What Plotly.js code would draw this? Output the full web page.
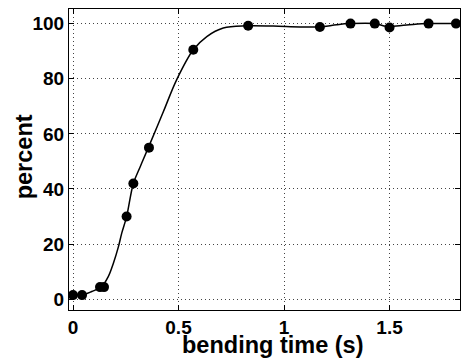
<!DOCTYPE html>
<html>
<head>
<meta charset="utf-8">
<script src="https://cdn.plot.ly/plotly-3.0.1.min.js"></script>
<style>
  html, body { margin: 0; padding: 0; background: #fff; }
  #chart { width: 464px; height: 360px; }
</style>
</head>
<body>
<div id="chart"></div>
<script>
// Measured points
const timeS = [0, 0.043, 0.128, 0.147, 0.254, 0.286, 0.36, 0.57, 0.83, 1.17, 1.315, 1.43, 1.50, 1.685, 1.815];
const percent = [1.5, 1.5, 4.4, 4.4, 30, 42, 55, 90.5, 99.2, 98.8, 100, 100, 98.6, 100, 100];

// Fitted curve
const curveX = [0, 0.041, 0.089, 0.136, 0.167, 0.191, 0.215, 0.231, 0.254, 0.286, 0.318, 0.357, 0.428, 0.491, 0.570, 0.634, 0.712, 0.823, 0.949, 1.076, 1.171, 1.25, 1.313, 1.431, 1.486, 1.581, 1.684, 1.818];
const curveY = [1.6, 1.5, 2.8, 4.6, 8.2, 13, 19, 24, 30, 42, 48, 55, 68, 79.6, 90.5, 95.3, 98.4, 99.2, 99.1, 98.8, 98.8, 99.6, 100, 100, 99, 99.5, 100, 100];

const xTicks = [0, 0.5, 1, 1.5];
const xTickText = ['0', '0.5', '1', '1.5'];
const yTicks = [0, 20, 40, 60, 80, 100];
const yTickText = ['0', '20', '40', '60', '80', '100'];
const xTitle = 'bending time (s)';
const yTitle = 'percent';

const FONT = '"Liberation Sans", Arial, Helvetica, sans-serif';

const traces = [
  {
    x: curveX, y: curveY, type: 'scatter', mode: 'lines',
    line: { color: '#000', width: 1.5, shape: 'spline', smoothing: 1 },
    hoverinfo: 'skip', showlegend: false
  },
  {
    x: timeS, y: percent, type: 'scatter', mode: 'markers',
    marker: { color: '#000', size: 10 },
    showlegend: false
  }
];

const axisCommon = {
  showline: true, linecolor: '#000', linewidth: 1, mirror: 'allticks',
  ticks: 'inside', ticklen: 5, tickcolor: '#000', tickwidth: 1,
  showgrid: true, gridcolor: '#444', gridwidth: 1, griddash: '1px,3px',
  zeroline: false,
  tickfont: { family: FONT, size: 19, color: '#000', weight: 'bold' },
  automargin: false
};

const titleFont = { family: FONT, size: 23.5, color: '#000', weight: 'bold' };

const layout = {
  width: 464, height: 360,
  margin: { l: 69, r: 4, t: 9, b: 50 },
  paper_bgcolor: '#fff', plot_bgcolor: '#fff',
  font: { family: FONT, color: '#000' },
  xaxis: Object.assign({}, axisCommon, {
    range: [-0.019, 1.834],
    tickmode: 'array', tickvals: xTicks, ticktext: xTickText
  }),
  yaxis: Object.assign({}, axisCommon, {
    range: [-3.9, 105.3],
    tickmode: 'array', tickvals: yTicks, ticktext: yTickText
  }),
  annotations: [
    { text: xTitle, xref: 'paper', yref: 'paper', x: 0.5205, y: -0.068,
      xanchor: 'center', yanchor: 'top', showarrow: false, font: titleFont },
    { text: yTitle, xref: 'paper', yref: 'paper', x: -0.113, y: 0.51,
      xanchor: 'center', yanchor: 'middle', textangle: -90, showarrow: false, font: titleFont }
  ]
};

Plotly.newPlot('chart', traces, layout, { displayModeBar: false, staticPlot: true });
</script>
</body>
</html>
